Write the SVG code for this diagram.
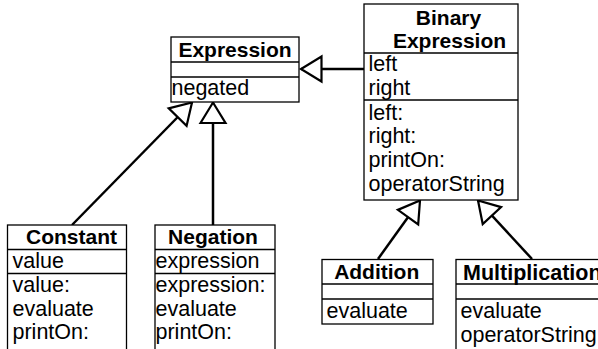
<svg xmlns="http://www.w3.org/2000/svg" width="598" height="349" viewBox="0 0 598 349">
<style>
.box{fill:#fff;stroke:#000;stroke-width:1.3}
.div{stroke:#000;stroke-width:1.3}
text{font-family:"Liberation Sans",Arial,Helvetica,sans-serif;font-size:21.5px;fill:#000}
.t{font-weight:bold;text-anchor:middle;font-size:21px}
.c{fill:none;stroke:#000;stroke-width:2.5}
</style>
<defs>
<marker id="tri" markerUnits="userSpaceOnUse" viewBox="-3 -16 27 32" markerWidth="27" markerHeight="32" refX="20.5" refY="0" orient="auto" overflow="visible">
<path d="M0,-12.5 L20.5,0 L0,12.5 Z" fill="#fff" stroke="#000" stroke-width="2.2"/>
</marker>
</defs>
<rect width="598" height="349" fill="#fff"/>
<g id="connectors">
<line class="c" x1="364" y1="69" x2="301" y2="69" marker-end="url(#tri)"/>
<line class="c" x1="72" y1="225" x2="192" y2="102.5" marker-end="url(#tri)"/>
<line class="c" x1="213" y1="225" x2="213" y2="102.5" marker-end="url(#tri)"/>
<line class="c" x1="378" y1="259" x2="420" y2="200.5" marker-end="url(#tri)"/>
<line class="c" x1="532" y1="259" x2="478" y2="200.5" marker-end="url(#tri)"/>
</g>
<g id="expression">
<rect class="box" x="171" y="37" width="128" height="65"/>
<line class="div" x1="171" y1="62" x2="299" y2="62"/>
<line class="div" x1="171" y1="77" x2="299" y2="77"/>
<text class="t" x="235" y="57">Expression</text>
<text x="171.5" y="95">negated</text>
</g>
<g id="binary-expression">
<rect class="box" x="364" y="4" width="154" height="196"/>
<line class="div" x1="364" y1="53" x2="518" y2="53"/>
<line class="div" x1="364" y1="100" x2="518" y2="100"/>
<text class="t" x="448.5" y="25">Binary</text>
<text class="t" x="449.5" y="48">Expression</text>
<text x="368.5" y="71">left</text>
<text x="368.5" y="95">right</text>
<text x="368.5" y="119.5">left:</text>
<text x="368.5" y="143">right:</text>
<text x="368.5" y="167">printOn:</text>
<text x="368.5" y="191">operatorString</text>
</g>
<g id="constant">
<rect class="box" x="7.5" y="225" width="119" height="130"/>
<line class="div" x1="7.5" y1="249.5" x2="126.5" y2="249.5"/>
<line class="div" x1="7.5" y1="273.5" x2="126.5" y2="273.5"/>
<text class="t" x="71.5" y="243.5">Constant</text>
<text x="12.5" y="268">value</text>
<text x="12.5" y="292">value:</text>
<text x="12.5" y="315.5">evaluate</text>
<text x="12.5" y="339">printOn:</text>
</g>
<g id="negation">
<rect class="box" x="155" y="225" width="120" height="130"/>
<line class="div" x1="155" y1="249.5" x2="275" y2="249.5"/>
<line class="div" x1="155" y1="273.5" x2="275" y2="273.5"/>
<text class="t" x="213" y="243.5">Negation</text>
<text x="155.5" y="268">expression</text>
<text x="155.5" y="292">expression:</text>
<text x="155.5" y="315.5">evaluate</text>
<text x="155.5" y="339">printOn:</text>
</g>
<g id="addition">
<rect class="box" x="322" y="259.5" width="111" height="64.5"/>
<line class="div" x1="322" y1="284" x2="433" y2="284"/>
<line class="div" x1="322" y1="299" x2="433" y2="299"/>
<text class="t" x="376.7" y="278.5">Addition</text>
<text x="326.5" y="318">evaluate</text>
</g>
<g id="multiplication">
<rect class="box" x="456" y="259.5" width="160" height="100"/>
<line class="div" x1="456" y1="284" x2="616" y2="284"/>
<line class="div" x1="456" y1="299" x2="616" y2="299"/>
<text x="463" y="279.5" font-weight="bold" font-size="21">Multiplication</text>
<text x="460.5" y="318">evaluate</text>
<text x="460.5" y="341.5">operatorString</text>
</g>
</svg>
